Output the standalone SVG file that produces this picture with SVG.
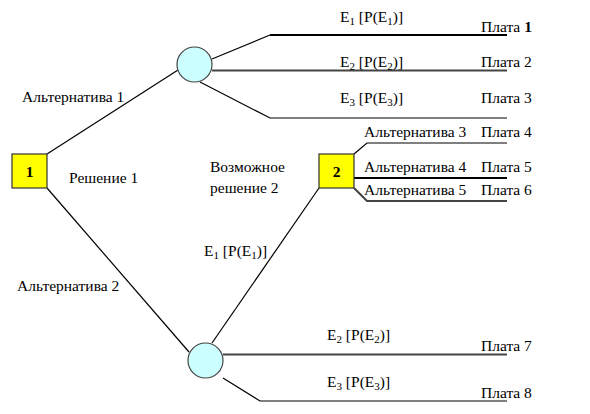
<svg xmlns="http://www.w3.org/2000/svg" width="590" height="414" viewBox="0 0 590 414">
<style>
text{font-family:"Liberation Serif","DejaVu Serif","Times New Roman",serif;font-size:15.5px;fill:#000}
.b{font-weight:bold}
.ln{fill:none;stroke:#000;stroke-width:1.2}
.thick{stroke-width:2}
.gray{stroke:#444;stroke-width:2}
.sq{fill:#ffff00;stroke:#333;stroke-width:1.2}
.ch{fill:#ccffff;stroke:#444;stroke-width:1.2}
.sub{font-size:11px}
</style>
<rect width="590" height="414" fill="#fff"/>
<g id="connectors">
<polyline class="ln" points="47,154 178,70"/>
<polyline class="ln" points="47,188 189,352"/>
<polyline class="ln" points="319,188 212,343"/>
<polyline class="ln" points="212,59 270,35"/>
<polyline class="ln thick" points="270,35 507,35"/>
<polyline class="ln gray" points="212,70.5 507,70.5"/>
<polyline class="ln" points="200,82 270,118 507,118"/>
<polyline class="ln" points="354,154 367,143 507,143"/>
<polyline class="ln thick" points="354,178 507,178"/>
<polyline class="ln gray" points="354,188 367,201 507,201"/>
<polyline class="ln gray" points="223,354.5 507,354.5"/>
<polyline class="ln" points="223,378 260,401 507,401"/>
</g>
<g id="node-1">
<rect class="sq" x="12" y="154" width="35" height="34"/>
<text class="b" x="29.5" y="177" text-anchor="middle">1</text>
</g>
<g id="node-2">
<rect class="sq" x="319" y="154" width="35" height="34"/>
<text class="b" x="336.5" y="177" text-anchor="middle">2</text>
</g>
<g id="chance-top">
<circle class="ch" cx="194.5" cy="64.5" r="17.5"/>
</g>
<g id="chance-bottom">
<circle class="ch" cx="205.5" cy="360.5" r="17.5"/>
</g>
<g id="labels">
<text x="22" y="102">Альтернатива 1</text>
<text x="69" y="183">Решение 1</text>
<text x="17" y="291">Альтернатива 2</text>
<text x="210" y="172">Возможное</text>
<text x="210" y="193">решение 2</text>
<text x="340" y="22">E<tspan class="sub" dy="3">1</tspan><tspan dy="-3"> [P(E</tspan><tspan class="sub" dy="3">1</tspan><tspan dy="-3">)]</tspan></text>
<text x="340" y="67">E<tspan class="sub" dy="3">2</tspan><tspan dy="-3"> [P(E</tspan><tspan class="sub" dy="3">2</tspan><tspan dy="-3">)]</tspan></text>
<text x="340" y="103">E<tspan class="sub" dy="3">3</tspan><tspan dy="-3"> [P(E</tspan><tspan class="sub" dy="3">3</tspan><tspan dy="-3">)]</tspan></text>
<text x="204" y="256">E<tspan class="sub" dy="3">1</tspan><tspan dy="-3"> [P(E</tspan><tspan class="sub" dy="3">1</tspan><tspan dy="-3">)]</tspan></text>
<text x="327" y="340">E<tspan class="sub" dy="3">2</tspan><tspan dy="-3"> [P(E</tspan><tspan class="sub" dy="3">2</tspan><tspan dy="-3">)]</tspan></text>
<text x="327" y="387">E<tspan class="sub" dy="3">3</tspan><tspan dy="-3"> [P(E</tspan><tspan class="sub" dy="3">3</tspan><tspan dy="-3">)]</tspan></text>
<text x="364" y="137">Альтернатива 3</text>
<text x="364" y="172">Альтернатива 4</text>
<text x="364" y="195">Альтернатива 5</text>
<text x="481" y="32">Плата <tspan class="b">1</tspan></text>
<text x="481" y="67">Плата 2</text>
<text x="481" y="103">Плата 3</text>
<text x="481" y="137">Плата 4</text>
<text x="481" y="172">Плата 5</text>
<text x="481" y="195">Плата 6</text>
<text x="481" y="351">Плата 7</text>
<text x="481" y="398">Плата 8</text>
</g>
</svg>
